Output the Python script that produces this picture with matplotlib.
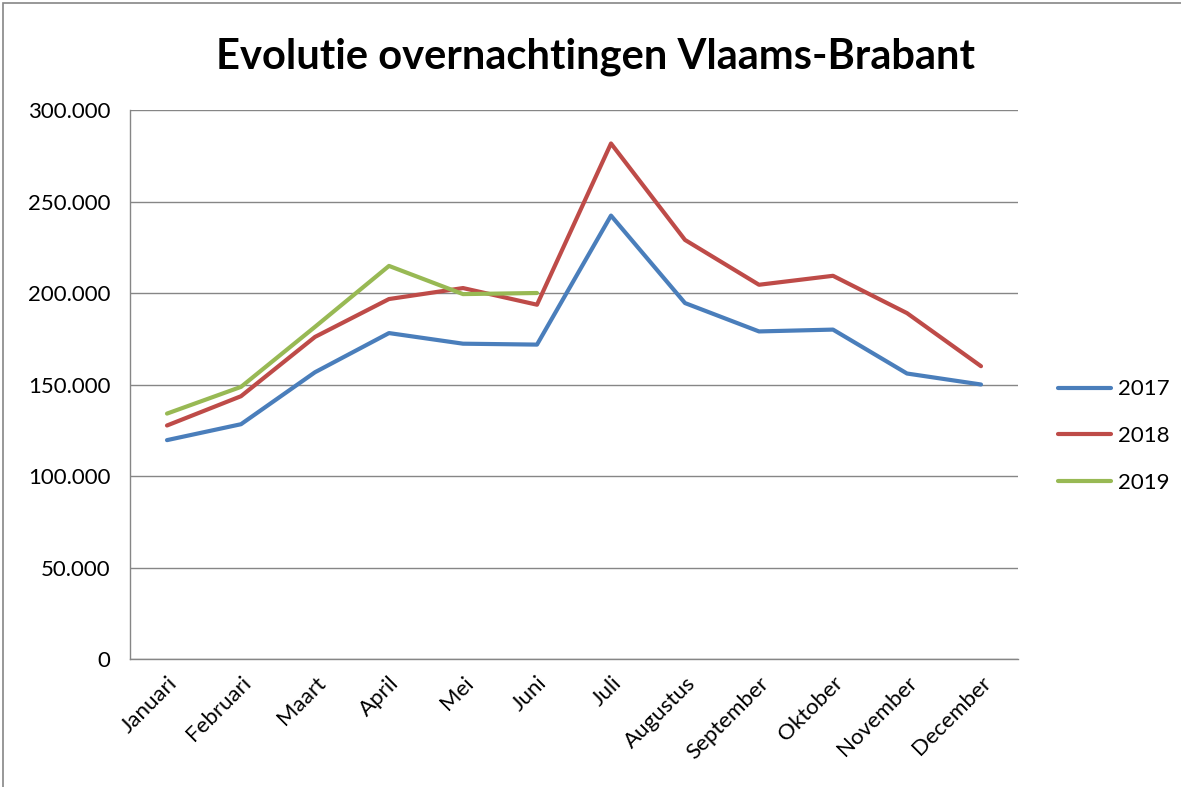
import matplotlib
matplotlib.use("Agg")
import matplotlib.pyplot as plt
from matplotlib.patches import Rectangle
from matplotlib.ticker import FuncFormatter

months = ["Januari", "Februari", "Maart", "April", "Mei", "Juni", "Juli",
          "Augustus", "September", "Oktober", "November", "December"]
v2017 = [119600, 128300, 156700, 178100, 172300, 171800, 242300, 194500, 179000, 180000, 156000, 150000]
v2018 = [127600, 143600, 176000, 196700, 202700, 193600, 281700, 229000, 204500, 209400, 189000, 160000]
v2019 = [134100, 148700, 181500, 214800, 199400, 200000]
years = ["2017", "2018", "2019"]
colors = ["#4A7EBB", "#BE4B48", "#98B954"]

plt.rcParams['font.family'] = ['Lato', 'DejaVu Sans']

W, H = 1181, 787
fig = plt.figure(figsize=(W/100, H/100), dpi=100)
ax = fig.add_axes([130/W, 1-659/H, (1018-130)/W, (659-110)/H])

x = list(range(len(months)))
for vals, lab, c in zip([v2017, v2018, v2019], years, colors):
    ax.plot(x[:len(vals)], vals, color=c, lw=3.0, label=lab, solid_capstyle='round', solid_joinstyle='round')

ax.set_xlim(-0.5, 11.5)
ax.set_ylim(0, 300000)
ax.set_yticks(range(0, 300001, 50000))
ax.yaxis.set_major_formatter(FuncFormatter(lambda v, p: "0" if v == 0 else f"{int(v):,}".replace(",", ".")))
ax.set_xticks(x)
ax.set_xticklabels(months, rotation=45, ha='right', rotation_mode='anchor')
ax.tick_params(axis='both', length=0, labelsize=16, colors='#000000')
ax.tick_params(axis='y', pad=14)
ax.tick_params(axis='x', pad=10)
ax.grid(axis='y', color='#868686', lw=1.0)
ax.set_axisbelow(True)
for s in ['top', 'right']:
    ax.spines[s].set_visible(False)
for s in ['left', 'bottom']:
    ax.spines[s].set_color('#868686')
    ax.spines[s].set_linewidth(1.0)

fig.text(596/W, 1-57/H, "Evolutie overnachtingen Vlaams-Brabant", ha='center', va='center',
         fontsize=30, fontweight='bold')

leg = ax.legend(loc='center left', bbox_to_anchor=(1038/W, 1-436/H), bbox_transform=fig.transFigure,
                frameon=False, fontsize=16, handlelength=2.4, handletextpad=0.3, labelspacing=1.2)

fig.patches.append(Rectangle((3/W, -0.1), 1.2, 1-3/H+0.1, transform=fig.transFigure,
                             fill=False, edgecolor='#868686', lw=1.2))

fig.savefig("out.png", dpi=100, facecolor='white')
